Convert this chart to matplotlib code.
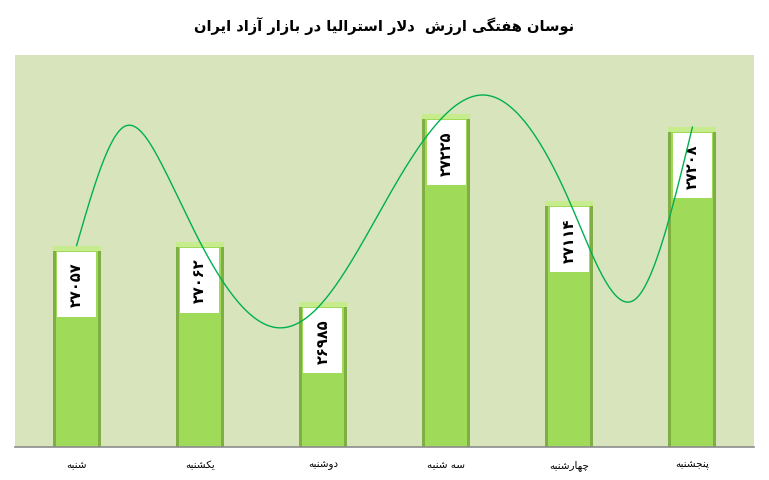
import numpy as np
import matplotlib
matplotlib.use("Agg")
import matplotlib.pyplot as plt

title = "نوسان هفتگی ارزش  دلار استرالیا در بازار آزاد ایران"
days = ["شنبه", "یکشنبه", "دوشنبه", "سه شنبه", "چهارشنبه", "پنجشنبه"]
prices = [27057, 27062, 26985, 27225, 27114, 27208]

# the green line: position (in bar units) and value
curve_x = [0, 0.38, 0.69, 1, 1.64, 2, 2.63, 3, 3.30, 4, 4.54, 5]
curve_y = [27057, 27208, 27161, 27062, 26952, 26985, 27146, 27225, 27249, 27114, 26989, 27208]

# --- tiny persian shaper (matplotlib has no text shaping) ---
FORMS = {
    "ا": ("\uFE8D", "\uFE8E"), "آ": ("\uFE81", "\uFE82"),
    "د": ("\uFEA9", "\uFEAA"), "ر": ("\uFEAD", "\uFEAE"),
    "ز": ("\uFEAF", "\uFEB0"), "و": ("\uFEED", "\uFEEE"),
    "ب": ("\uFE8F", "\uFE90", "\uFE91", "\uFE92"),
    "ت": ("\uFE95", "\uFE96", "\uFE97", "\uFE98"),
    "ج": ("\uFE9D", "\uFE9E", "\uFE9F", "\uFEA0"),
    "س": ("\uFEB1", "\uFEB2", "\uFEB3", "\uFEB4"),
    "ش": ("\uFEB5", "\uFEB6", "\uFEB7", "\uFEB8"),
    "ف": ("\uFED1", "\uFED2", "\uFED3", "\uFED4"),
    "ل": ("\uFEDD", "\uFEDE", "\uFEDF", "\uFEE0"),
    "ن": ("\uFEE5", "\uFEE6", "\uFEE7", "\uFEE8"),
    "ه": ("\uFEE9", "\uFEEA", "\uFEEB", "\uFEEC"),
    "ی": ("\uFBFC", "\uFBFD", "\uFBFE", "\uFBFF"),
    "ک": ("\uFB8E", "\uFB8F", "\uFB90", "\uFB91"),
    "گ": ("\uFB92", "\uFB93", "\uFB94", "\uFB95"),
    "چ": ("\uFB7A", "\uFB7B", "\uFB7C", "\uFB7D"),
    "پ": ("\uFB56", "\uFB57", "\uFB58", "\uFB59"),
}


def shape(text):
    out = []
    chars = list(text)
    i = 0
    while i < len(chars):
        c = chars[i]
        if c not in FORMS:
            out.append(c)
            i += 1
            continue
        prev = chars[i - 1] if i > 0 else ""
        join_prev = prev in FORMS and len(FORMS[prev]) == 4
        nxt = chars[i + 1] if i + 1 < len(chars) else ""
        if c == "ل" and nxt in ("ا", "آ"):
            out.append("\uFEFC" if join_prev else "\uFEFB")
            i += 2
            continue
        f = FORMS[c]
        join_next = len(f) == 4 and nxt in FORMS
        if join_prev and join_next:
            out.append(f[3])
        elif join_prev:
            out.append(f[1])
        elif join_next:
            out.append(f[2])
        else:
            out.append(f[0])
        i += 1
    return "".join(reversed(out))


def fa_digits(n):
    return "".join("۰۱۲۳۴۵۶۷۸۹"[int(d)] for d in str(n))


def natural_spline(xs, ys, xnew):
    xs = np.asarray(xs, float)
    ys = np.asarray(ys, float)
    n = len(xs)
    h = np.diff(xs)
    A = np.zeros((n, n))
    b = np.zeros(n)
    A[0, 0] = A[-1, -1] = 1
    for k in range(1, n - 1):
        A[k, k - 1] = h[k - 1]
        A[k, k] = 2 * (h[k - 1] + h[k])
        A[k, k + 1] = h[k]
        b[k] = 3 * ((ys[k + 1] - ys[k]) / h[k] - (ys[k] - ys[k - 1]) / h[k - 1])
    c = np.linalg.solve(A, b)
    idx = np.clip(np.searchsorted(xs, xnew) - 1, 0, n - 2)
    dx = xnew - xs[idx]
    bb = (ys[idx + 1] - ys[idx]) / h[idx] - h[idx] * (2 * c[idx] + c[idx + 1]) / 3
    d = (c[idx + 1] - c[idx]) / (3 * h[idx])
    return ys[idx] + bb * dx + c[idx] * dx ** 2 + d * dx ** 3


plt.rcParams['font.family'] = ['DejaVu Sans']
fig = plt.figure(figsize=(7.69, 4.81), dpi=100)
ax = fig.add_axes([15 / 769, 33 / 481, 739 / 769, 392 / 481])
ax.set_facecolor("#D8E4BC")

x = np.arange(len(prices))
ymin, ymax = 26800, 27300
px = (ymax - ymin) / 392.0

base = [ymin] * len(prices)
heights = [p - ymin for p in prices]
# bar body with darker edges
ax.bar(x, heights, bottom=base, width=0.39, color="#7FAF44", zorder=2)
ax.bar(x, heights, bottom=base, width=0.39 - 6 / 123.3, color="#9FDB58", zorder=2)
# light bevel on top
ax.bar(x, [5 * px] * len(prices), bottom=[p - 5 * px for p in prices],
       width=0.39, color="#C6EC8E", zorder=3)

# white value boxes
box_h = 65 * px
box_top = [p - 6 * px for p in prices]
ax.bar(x, [box_h] * len(prices), bottom=[t - box_h for t in box_top],
       width=39 / 123.3, color="white", zorder=4)
for xi, t, p in zip(x, box_top, prices):
    ax.text(xi, t - box_h / 2, fa_digits(p), rotation=90, ha="center", va="center",
            fontsize=10.5, fontweight="bold", color="black", zorder=5)

xs = np.linspace(curve_x[0], curve_x[-1], 400)
ax.plot(xs, natural_spline(curve_x, curve_y, xs), color="#00B050", lw=1, zorder=6)

ax.set_xlim(-0.5, len(prices) - 0.5)
ax.set_ylim(ymin, ymax)
ax.set_yticks([])
ax.set_xticks(x)
ax.set_xticklabels([shape(d) for d in days], fontsize=7.5)
ax.tick_params(axis="x", length=0, pad=9)
for s in ("top", "left", "right"):
    ax.spines[s].set_visible(False)
ax.spines["bottom"].set_color("#8C8C8C")
ax.spines["bottom"].set_linewidth(1.2)

fig.text(0.5, 1 - 26 / 481, shape(title), ha="center", va="center",
         fontsize=10.5, fontweight="bold", color="black")

fig.savefig("out.png", dpi=100)
